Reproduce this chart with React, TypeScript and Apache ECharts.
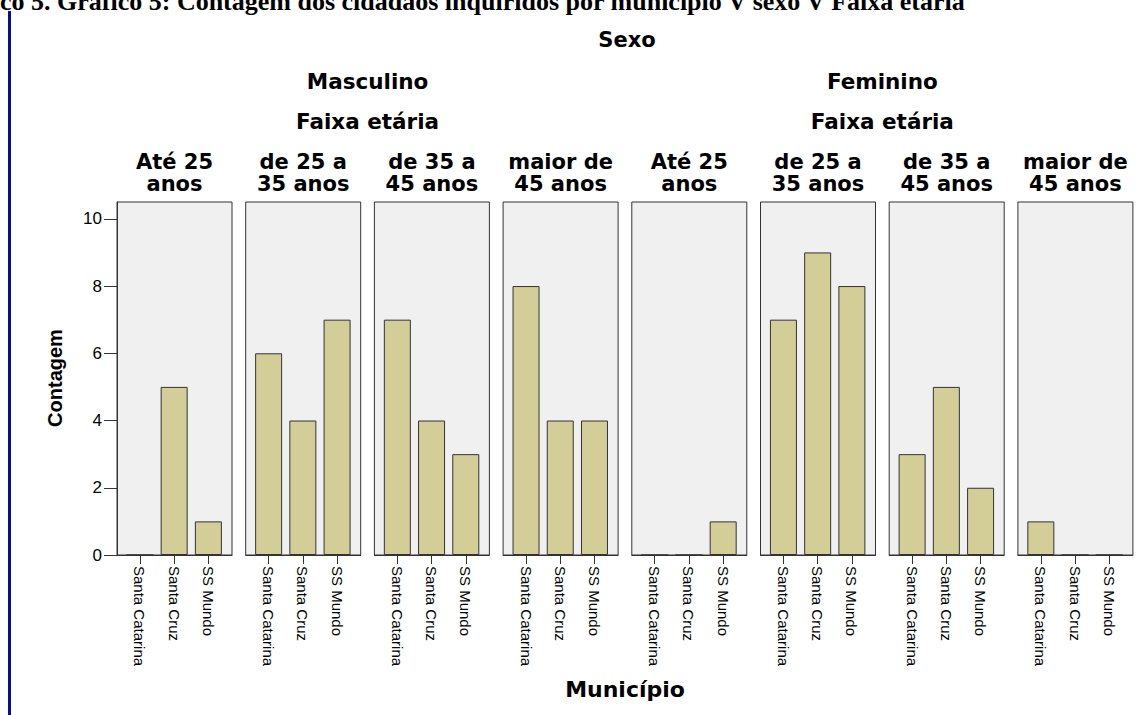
import React, { useEffect, useRef } from "react";
import * as echarts from "echarts";

const tituloTopo = "co 5. Gráfico 5: Contagem dos cidadãos inquiridos por município V sexo V Faixa etária";
const tituloSexo = "Sexo";
const tituloFaixa = "Faixa etária";
const tituloY = "Contagem";
const tituloX = "Município";
const sexos = ["Masculino", "Feminino"];
const faixas = ["Até 25\nanos", "de 25 a\n35 anos", "de 35 a\n45 anos", "maior de\n45 anos"];
const municipios = ["Santa Catarina", "Santa Cruz", "SS Mundo"];
const masculino = [
  [0, 5, 1],
  [6, 4, 7],
  [7, 4, 3],
  [8, 4, 4],
];
const feminino = [
  [0, 0, 1],
  [7, 9, 8],
  [3, 5, 2],
  [1, 0, 0],
];
const yTicks = [0, 2, 4, 6, 8, 10];
const xTicks = [0, 1, 2];

const PANEL_LEFT = 117;
const PANEL_STEP = 128.7;
const PANEL_W = 115;
const PANEL_TOP = 202;
const PANEL_H = 353;
const SANS = "'Liberation Sans', Arial, sans-serif";
const HEAD = "'DejaVu Sans', Verdana, sans-serif";

export default function App() {
  const ref = useRef<HTMLDivElement>(null);
  useEffect(() => {
    if (!ref.current) return;
    const chart = echarts.init(ref.current, undefined, { renderer: "svg" });
    const panels: { sexo: number; faixa: number; values: number[] }[] = [];
    sexos.forEach((_, s) => {
      const src = s === 0 ? masculino : feminino;
      faixas.forEach((_, f) => panels.push({ sexo: s, faixa: f, values: src[f] }));
    });
    const grids = panels.map((_, i) => ({
      left: PANEL_LEFT + i * PANEL_STEP,
      top: PANEL_TOP,
      width: PANEL_W,
      height: PANEL_H,
      show: true,
      backgroundColor: "#F0F0F0",
      borderColor: "#333333",
      borderWidth: 1,
      containLabel: false,
    }));
    const xAxes = panels.map((_, i) => ({
      type: "value",
      gridIndex: i,
      min: -0.67,
      max: 2.69,
      splitLine: { show: false },
      axisLine: { show: true, onZero: false, lineStyle: { color: "#333333", width: 1 } },
      axisTick: { show: true, customValues: xTicks, length: 9, lineStyle: { color: "#333333" } },
      axisLabel: {
        show: true,
        customValues: xTicks,
        rotate: -90,
        margin: 11,
        fontSize: 15,
        fontFamily: SANS,
        color: "#000",
        formatter: (v: number) => municipios[Math.round(v)] ?? "",
      },
    }));
    const yAxes = panels.map((_, i) => ({
      type: "value",
      gridIndex: i,
      min: 0,
      max: 10.5,
      splitLine: { show: false },
      axisLine: { show: i === 0, onZero: false, lineStyle: { color: "#333333" } },
      axisTick: { show: i === 0, customValues: yTicks, length: 13, lineStyle: { color: "#333333" } },
      axisLabel: {
        show: i === 0,
        customValues: yTicks,
        margin: 15,
        fontSize: 17,
        fontFamily: SANS,
        color: "#000",
      },
    }));
    const series = panels.map((p, i) => ({
      type: "bar",
      xAxisIndex: i,
      yAxisIndex: i,
      barWidth: 27,
      data: p.values.map((v, k) => [xTicks[k], v]),
      itemStyle: { color: "#D3CE97", borderColor: "#333333", borderWidth: 1 },
    }));
    const graphic: any[] = [
      {
        type: "rect",
        shape: { x: 8, y: 11, width: 3, height: 710 },
        style: { fill: "#0A0A96" },
      },
      {
        type: "text",
        x: 0,
        y: 1,
        style: {
          text: tituloTopo,
          fontSize: 26,
          fontWeight: "bold",
          fontFamily: "'Liberation Serif', 'Times New Roman', serif",
          fill: "#000",
          align: "left",
          verticalAlign: "middle",
        },
      },
      {
        type: "text",
        x: 627,
        y: 40,
        style: { text: tituloSexo, fontSize: 21, fontWeight: "bold", fontFamily: HEAD, fill: "#000", align: "center", verticalAlign: "middle" },
      },
      {
        type: "text",
        x: 55,
        y: 378,
        rotation: Math.PI / 2,
        style: { text: tituloY, fontSize: 20, fontWeight: "bold", fontFamily: SANS, fill: "#000", align: "center", verticalAlign: "middle" },
      },
      {
        type: "text",
        x: 625,
        y: 689,
        style: { text: tituloX, fontSize: 22, fontWeight: "bold", fontFamily: HEAD, fill: "#000", align: "center", verticalAlign: "middle" },
      },
    ];
    sexos.forEach((s, k) => {
      const cx = PANEL_LEFT + (k * 4 + 2) * PANEL_STEP - (PANEL_STEP - PANEL_W) / 2;
      graphic.push({
        type: "text",
        x: cx,
        y: 81,
        style: { text: s, fontSize: 21.5, fontWeight: "bold", fontFamily: HEAD, fill: "#000", align: "center", verticalAlign: "middle" },
      });
      graphic.push({
        type: "text",
        x: cx,
        y: 121,
        style: { text: tituloFaixa, fontSize: 21.5, fontWeight: "bold", fontFamily: HEAD, fill: "#000", align: "center", verticalAlign: "middle" },
      });
    });
    panels.forEach((p, i) => {
      graphic.push({
        type: "text",
        x: PANEL_LEFT + i * PANEL_STEP + PANEL_W / 2,
        y: 173,
        style: {
          text: faixas[p.faixa],
          fontSize: 21,
          lineHeight: 22,
          fontWeight: "bold",
          fontFamily: HEAD,
          fill: "#000",
          align: "center",
          verticalAlign: "middle",
        },
      });
    });
    chart.setOption({
      animation: false,
      backgroundColor: "#FFFFFF",
      grid: grids,
      xAxis: xAxes,
      yAxis: yAxes,
      series,
      graphic,
    });
    return () => chart.dispose();
  }, []);
  return <div ref={ref} style={{ position: "absolute", left: 0, top: 0, width: 1136, height: 715 }} />;
}
